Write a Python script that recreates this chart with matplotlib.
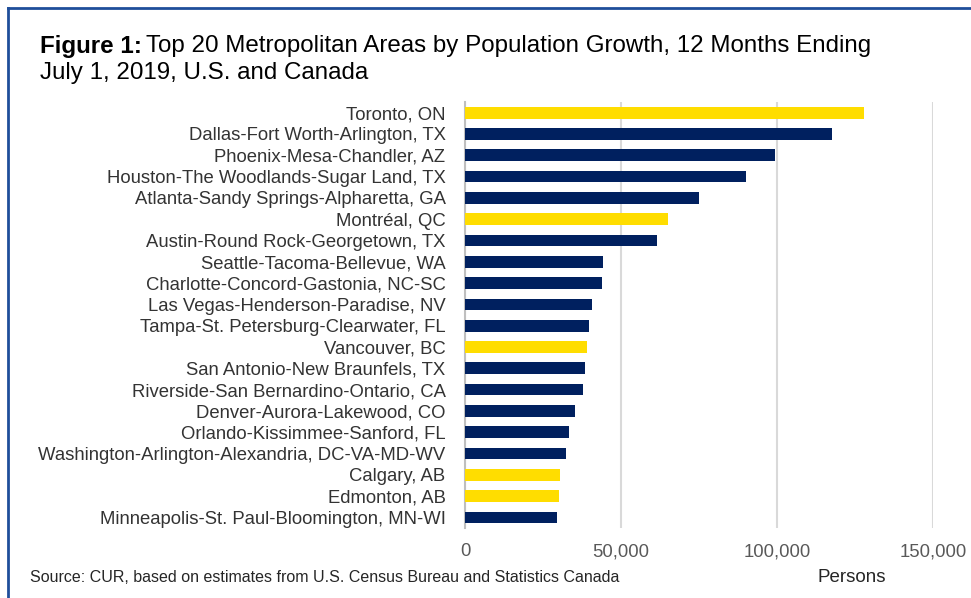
import matplotlib
matplotlib.use("Agg")
import matplotlib.pyplot as plt
from matplotlib.lines import Line2D

plt.rcParams['font.family'] = ['Liberation Sans', 'DejaVu Sans']

# data, top to bottom as in the chart
metros = [
    "Toronto, ON",
    "Dallas-Fort Worth-Arlington, TX",
    "Phoenix-Mesa-Chandler, AZ",
    "Houston-The Woodlands-Sugar Land, TX",
    "Atlanta-Sandy Springs-Alpharetta, GA",
    "Montréal, QC",
    "Austin-Round Rock-Georgetown, TX",
    "Seattle-Tacoma-Bellevue, WA",
    "Charlotte-Concord-Gastonia, NC-SC",
    "Las Vegas-Henderson-Paradise, NV",
    "Tampa-St. Petersburg-Clearwater, FL",
    "Vancouver, BC",
    "San Antonio-New Braunfels, TX",
    "Riverside-San Bernardino-Ontario, CA",
    "Denver-Aurora-Lakewood, CO",
    "Orlando-Kissimmee-Sanford, FL",
    "Washington-Arlington-Alexandria, DC-VA-MD-WV",
    "Calgary, AB",
    "Edmonton, AB",
    "Minneapolis-St. Paul-Bloomington, MN-WI",
]
growth = [127900, 117500, 99200, 90100, 75000, 65100, 61500, 44300, 44000, 40600,
          39700, 39000, 38600, 37700, 35300, 33200, 32400, 30400, 30000, 29500]
country = ["CA", "US", "US", "US", "US", "CA", "US", "US", "US", "US",
           "US", "CA", "US", "US", "US", "US", "US", "CA", "CA", "US"]
x_ticks = [0, 50000, 100000, 150000]

NAVY = "#00205f"
YELLOW = "#ffdd00"
colors = [YELLOW if c == "CA" else NAVY for c in country]

fig = plt.figure(figsize=(9.71, 5.98), dpi=100)
ax = fig.add_axes([0.4789, 0.117, 0.4822, 0.7124])

ypos = list(range(len(metros)))
ax.barh(ypos, growth, height=0.55, color=colors, zorder=3)
ax.set_ylim(len(metros) - 0.5, -0.5)
ax.set_xlim(0, 150000)
ax.set_yticks(ypos)
ax.set_yticklabels(metros, fontsize=13.3, color="#333333")
ax.set_xticks(x_ticks)
ax.set_xticklabels([f"{v:,}" for v in x_ticks], fontsize=13.3, color="#595959")
ax.tick_params(axis="y", length=0, pad=14)
ax.tick_params(axis="x", length=0, pad=11)
ax.grid(axis="x", color="#d9d9d9", linewidth=1.5, zorder=0)
for s in ["top", "right", "bottom"]:
    ax.spines[s].set_visible(False)
ax.spines["left"].set_color("#bfbfbf")
ax.spines["left"].set_linewidth(1.5)

# title with bold lead-in
t1 = fig.text(40 / 971, 1 - 46 / 598, "Figure 1:", fontsize=17.4, fontweight="bold",
              va="center", ha="left", color="black")
fig.canvas.draw()
bb = t1.get_window_extent()
fig.text(bb.x1 / 971 + 0.004, 1 - 46 / 598,
         "Top 20 Metropolitan Areas by Population Growth, 12 Months Ending",
         fontsize=17.4, va="center", ha="left", color="black")
fig.text(40 / 971, 1 - 73 / 598, "July 1, 2019, U.S. and Canada",
         fontsize=17.4, va="center", ha="left", color="black")

fig.text(30 / 971, 1 - 577 / 598,
         "Source: CUR, based on estimates from U.S. Census Bureau and Statistics Canada",
         fontsize=11.5, va="center", ha="left", color="#262626")
fig.text(852 / 971, 1 - 577 / 598, "Persons", fontsize=13.5, va="center", ha="center",
         color="#262626")

# frame lines at top and left
fig.add_artist(Line2D([8 / 971, 1], [1 - 8 / 598, 1 - 8 / 598], color="#1f4e9a",
                      linewidth=2, transform=fig.transFigure))
fig.add_artist(Line2D([8 / 971, 8 / 971], [0, 1 - 8 / 598], color="#1f4e9a",
                      linewidth=2, transform=fig.transFigure))

fig.savefig("out.png", dpi=100)
